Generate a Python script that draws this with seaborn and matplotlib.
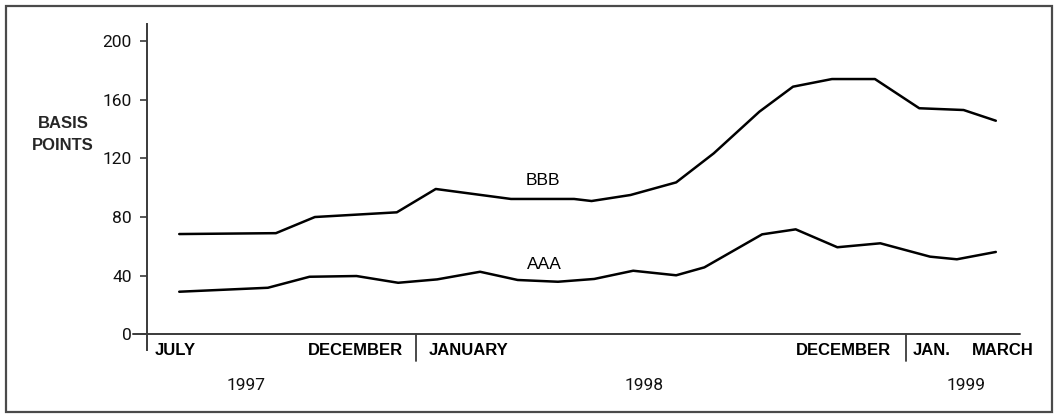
import matplotlib
matplotlib.use("Agg")
import matplotlib.pyplot as plt
from matplotlib.patches import Rectangle
import matplotlib.transforms as mtransforms
import pandas as pd
import seaborn as sns

# Yield spreads over Treasuries, in basis points
bbb_dates = ["1997-07-09", "1997-09-19", "1997-10-18", "1997-12-18", "1998-01-16",
             "1998-03-13", "1998-04-29", "1998-05-12", "1998-06-10", "1998-07-14",
             "1998-08-11", "1998-09-14", "1998-10-09", "1998-11-07", "1998-12-09",
             "1999-01-11", "1999-02-13", "1999-03-09"]
bbb_spread = [68.4, 69.0, 80.0, 83.2, 99.1,
              92.3, 92.3, 90.9, 95.0, 103.6,
              123.4, 151.8, 168.8, 174.0, 174.0,
              154.1, 152.9, 145.6]

aaa_dates = ["1997-07-09", "1997-09-13", "1997-10-14", "1997-11-18", "1997-12-19",
             "1998-01-17", "1998-02-18", "1998-03-18", "1998-04-17", "1998-05-14",
             "1998-06-12", "1998-07-14", "1998-08-04", "1998-09-16", "1998-10-11",
             "1998-11-11", "1998-12-13", "1999-01-19", "1999-02-08", "1999-03-09"]
aaa_spread = [29.1, 31.8, 39.3, 39.8, 35.2,
              37.5, 42.7, 37.1, 35.9, 37.8,
              43.4, 40.3, 45.7, 68.2, 71.6,
              59.4, 62.1, 53.0, 51.2, 56.2]

y_ticks = [0, 40, 80, 120, 160, 200]
year_breaks = ["1998-01-01", "1999-01-01"]
year_labels = ["1997", "1998", "1999"]
year_label_dates = ["1997-08-28", "1998-06-20", "1999-02-15"]

df = pd.concat([
    pd.DataFrame({"date": pd.to_datetime(bbb_dates), "spread": bbb_spread, "rating": "BBB"}),
    pd.DataFrame({"date": pd.to_datetime(aaa_dates), "spread": aaa_spread, "rating": "AAA"}),
])

sns.set_theme(style="white")
plt.rcParams["font.family"] = ["Liberation Sans", "DejaVu Sans"]

W, H = 1058, 418
fig = plt.figure(figsize=(W / 100, H / 100), dpi=100)
ax = fig.add_axes([147 / W, (H - 350) / H, (1020 - 147) / W, (350 - 24) / H])

sns.lineplot(data=df, x="date", y="spread", hue="rating",
             palette={"BBB": "black", "AAA": "black"},
             linewidth=1.8, legend=False, ax=ax, estimator=None, sort=True)

ax.set_xlim(pd.Timestamp("1997-06-15"), pd.Timestamp("1999-03-27"))
ax.set_ylim(-10.6, 211.5)

axis_col = "#3a3a3a"
for side in ["top", "right", "bottom"]:
    ax.spines[side].set_visible(False)
ax.spines["left"].set_color(axis_col)
ax.spines["left"].set_linewidth(1.4)

# zero line doubles as the horizontal axis
ax.axhline(0, xmin=-14 / 873, xmax=1, color=axis_col, lw=1.4, clip_on=False, zorder=1)

num_font = dict(family=["Roboto", "DejaVu Sans"], fontweight="normal", color="#111111")
ax.set_yticks(y_ticks)
ax.set_yticklabels([str(v) for v in y_ticks], fontsize=12.5, **num_font)
ax.tick_params(axis="y", left=True, length=5, width=1.2, color=axis_col, pad=6)
ax.set_xticks([])
ax.set_xlabel("")
ax.set_ylabel("")
ax.grid(False)

# year separators below the axis
for d in year_breaks:
    ax.plot([pd.Timestamp(d)] * 2, [0, -18], color=axis_col, lw=1.3, clip_on=False)

# month labels
lab_y = -11.2
bold = dict(fontsize=12, fontweight="bold", va="center", clip_on=False, color="black")
off = lambda dx: mtransforms.offset_copy(ax.transData, fig=fig, x=dx, y=0, units="dots")
t0 = pd.Timestamp("1997-06-15")
b1, b2 = pd.Timestamp(year_breaks[0]), pd.Timestamp(year_breaks[1])
ax.text(t0, lab_y, "JULY", ha="left", transform=off(8), **bold)
ax.text(b1, lab_y, "DECEMBER", ha="right", transform=off(-13), **bold)
ax.text(b1, lab_y, "JANUARY", ha="left", transform=off(13), **bold)
ax.text(b2, lab_y, "DECEMBER", ha="right", transform=off(-15), **bold)
ax.text(b2, lab_y, "JAN.", ha="left", transform=off(7), **bold)
ax.text(pd.Timestamp("1999-03-27"), lab_y, "MARCH", ha="right", transform=off(14), **bold)

for d, lab in zip(year_label_dates, year_labels):
    ax.text(pd.Timestamp(d), -34.5, lab, ha="center", va="center", fontsize=12.5,
            clip_on=False, **num_font)

# series labels
ax.text(pd.Timestamp("1998-04-06"), 105, "BBB", ha="center", va="center", fontsize=12.5, color="black")
ax.text(pd.Timestamp("1998-04-07"), 47.5, "AAA", ha="center", va="center", fontsize=12.5, color="black")

fig.text(63 / W, 1 - 124 / H, "BASIS", ha="center", va="center", fontsize=12, fontweight="bold")
fig.text(63 / W, 1 - 146 / H, "POINTS", ha="center", va="center", fontsize=12, fontweight="bold")

# outer frame
fig.patches.append(Rectangle((6 / W, 6 / H), (1052 - 6) / W, (412 - 6) / H,
                             transform=fig.transFigure, fill=False,
                             edgecolor="#4a4a4a", linewidth=1.6))

fig.savefig("out.png", dpi=100)
